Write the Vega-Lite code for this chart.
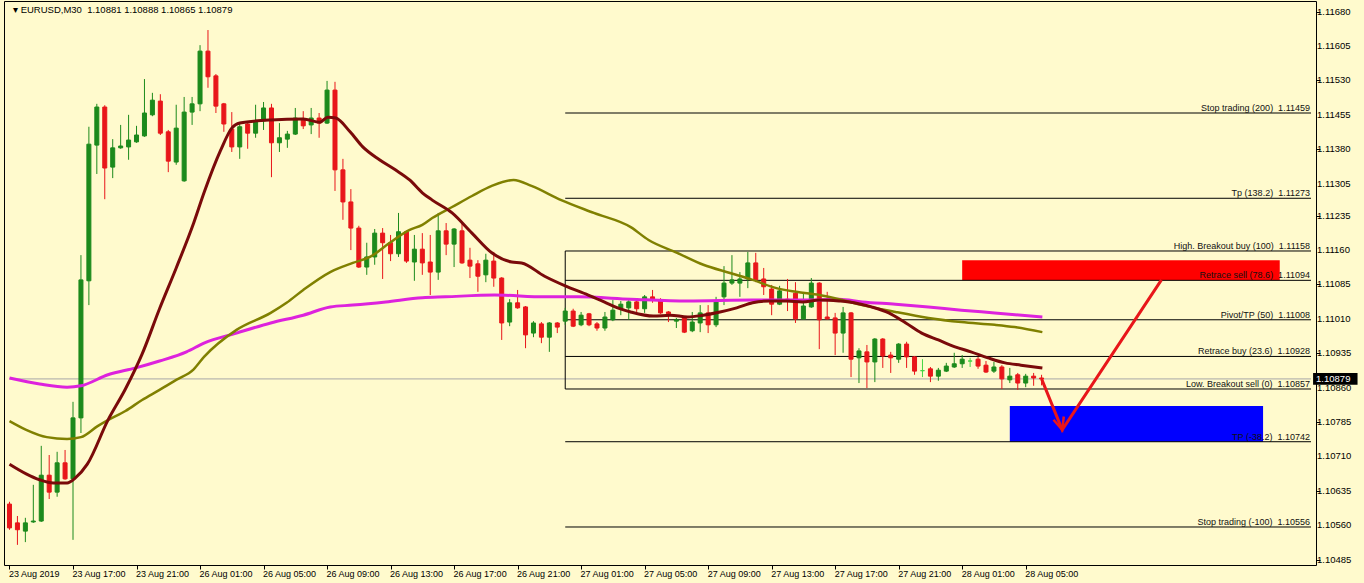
{
  "$schema": "https://vega.github.io/schema/vega-lite/v6.json",
  "width": 1312,
  "height": 564,
  "autosize": {"type": "none"},
  "padding": {"left": 4, "top": 1, "right": 48, "bottom": 18},
  "background": "#FFFACD",
  "config": {
    "view": {"stroke": "#000000", "strokeWidth": 1, "fill": "#FFFACD"},
    "axis": {"grid": false, "domain": false, "ticks": true, "tickColor": "#000000", "tickSize": 4, "labelColor": "#000000", "labelFont": "Liberation Sans", "labelFontSize": 9, "labelOverlap": false, "labelFlush": false, "labelBound": false}
  },
  "datasets": {
    "candles": [
      {"i":0,"o":1.10606,"h":1.10611,"l":1.10550,"c":1.10554,"t":"down"},
      {"i":1,"o":1.10565,"h":1.10580,"l":1.10517,"c":1.10550,"t":"down"},
      {"i":2,"o":1.10547,"h":1.10576,"l":1.10523,"c":1.10565,"t":"up"},
      {"i":3,"o":1.10567,"h":1.10648,"l":1.10565,"c":1.10569,"t":"up"},
      {"i":4,"o":1.10569,"h":1.10733,"l":1.10567,"c":1.10669,"t":"up"},
      {"i":5,"o":1.10669,"h":1.10713,"l":1.10617,"c":1.10632,"t":"down"},
      {"i":6,"o":1.10632,"h":1.10720,"l":1.10622,"c":1.10696,"t":"up"},
      {"i":7,"o":1.10696,"h":1.10724,"l":1.10659,"c":1.10661,"t":"down"},
      {"i":8,"o":1.10661,"h":1.10829,"l":1.10528,"c":1.10794,"t":"up"},
      {"i":9,"o":1.10794,"h":1.11149,"l":1.10761,"c":1.11095,"t":"up"},
      {"i":10,"o":1.11093,"h":1.11429,"l":1.11040,"c":1.11391,"t":"up"},
      {"i":11,"o":1.11389,"h":1.11479,"l":1.11326,"c":1.11472,"t":"up"},
      {"i":12,"o":1.11472,"h":1.11476,"l":1.11271,"c":1.11339,"t":"down"},
      {"i":13,"o":1.11341,"h":1.11402,"l":1.11317,"c":1.11383,"t":"up"},
      {"i":14,"o":1.11383,"h":1.11433,"l":1.11381,"c":1.11387,"t":"up"},
      {"i":15,"o":1.11385,"h":1.11455,"l":1.11357,"c":1.11400,"t":"up"},
      {"i":16,"o":1.11396,"h":1.11431,"l":1.11394,"c":1.11411,"t":"up"},
      {"i":17,"o":1.11409,"h":1.11533,"l":1.11407,"c":1.11459,"t":"up"},
      {"i":18,"o":1.11455,"h":1.11503,"l":1.11452,"c":1.11487,"t":"up"},
      {"i":19,"o":1.11485,"h":1.11500,"l":1.11411,"c":1.11415,"t":"down"},
      {"i":20,"o":1.11418,"h":1.11422,"l":1.11330,"c":1.11354,"t":"down"},
      {"i":21,"o":1.11352,"h":1.11477,"l":1.11346,"c":1.11426,"t":"up"},
      {"i":22,"o":1.11311,"h":1.11494,"l":1.11309,"c":1.11461,"t":"up"},
      {"i":23,"o":1.11461,"h":1.11494,"l":1.11433,"c":1.11479,"t":"up"},
      {"i":24,"o":1.11479,"h":1.11607,"l":1.11463,"c":1.11594,"t":"up"},
      {"i":25,"o":1.11594,"h":1.11640,"l":1.11514,"c":1.11538,"t":"down"},
      {"i":26,"o":1.11540,"h":1.11544,"l":1.11459,"c":1.11474,"t":"down"},
      {"i":27,"o":1.11479,"h":1.11481,"l":1.11418,"c":1.11435,"t":"down"},
      {"i":28,"o":1.11424,"h":1.11461,"l":1.11374,"c":1.11385,"t":"down"},
      {"i":29,"o":1.11385,"h":1.11439,"l":1.11359,"c":1.11429,"t":"up"},
      {"i":30,"o":1.11435,"h":1.11439,"l":1.11381,"c":1.11415,"t":"down"},
      {"i":31,"o":1.11415,"h":1.11477,"l":1.11405,"c":1.11442,"t":"up"},
      {"i":32,"o":1.11442,"h":1.11483,"l":1.11422,"c":1.11470,"t":"up"},
      {"i":33,"o":1.11470,"h":1.11479,"l":1.11319,"c":1.11394,"t":"down"},
      {"i":34,"o":1.11394,"h":1.11437,"l":1.11374,"c":1.11405,"t":"up"},
      {"i":35,"o":1.11402,"h":1.11420,"l":1.11383,"c":1.11413,"t":"up"},
      {"i":36,"o":1.11413,"h":1.11470,"l":1.11411,"c":1.11448,"t":"up"},
      {"i":37,"o":1.11444,"h":1.11463,"l":1.11424,"c":1.11431,"t":"down"},
      {"i":38,"o":1.11433,"h":1.11470,"l":1.11413,"c":1.11448,"t":"up"},
      {"i":39,"o":1.11448,"h":1.11459,"l":1.11405,"c":1.11437,"t":"down"},
      {"i":40,"o":1.11437,"h":1.11529,"l":1.11435,"c":1.11509,"t":"up"},
      {"i":41,"o":1.11509,"h":1.11527,"l":1.11289,"c":1.11335,"t":"down"},
      {"i":42,"o":1.11335,"h":1.11359,"l":1.11226,"c":1.11265,"t":"down"},
      {"i":43,"o":1.11265,"h":1.11293,"l":1.11160,"c":1.11208,"t":"down"},
      {"i":44,"o":1.11208,"h":1.11213,"l":1.11121,"c":1.11123,"t":"down"},
      {"i":45,"o":1.11123,"h":1.11176,"l":1.11106,"c":1.11145,"t":"up"},
      {"i":46,"o":1.11145,"h":1.11206,"l":1.11128,"c":1.11197,"t":"up"},
      {"i":47,"o":1.11197,"h":1.11208,"l":1.11097,"c":1.11176,"t":"down"},
      {"i":48,"o":1.11176,"h":1.11193,"l":1.11136,"c":1.11152,"t":"down"},
      {"i":49,"o":1.11152,"h":1.11241,"l":1.11145,"c":1.11200,"t":"up"},
      {"i":50,"o":1.11200,"h":1.11202,"l":1.11132,"c":1.11136,"t":"down"},
      {"i":51,"o":1.11134,"h":1.11193,"l":1.11093,"c":1.11162,"t":"up"},
      {"i":52,"o":1.11162,"h":1.11197,"l":1.11106,"c":1.11132,"t":"down"},
      {"i":53,"o":1.11134,"h":1.11193,"l":1.11062,"c":1.11112,"t":"down"},
      {"i":54,"o":1.11112,"h":1.11241,"l":1.11095,"c":1.11202,"t":"up"},
      {"i":55,"o":1.11202,"h":1.11219,"l":1.11149,"c":1.11173,"t":"down"},
      {"i":56,"o":1.11173,"h":1.11208,"l":1.11123,"c":1.11206,"t":"up"},
      {"i":57,"o":1.11202,"h":1.11219,"l":1.11130,"c":1.11132,"t":"down"},
      {"i":58,"o":1.11138,"h":1.11165,"l":1.11099,"c":1.11125,"t":"down"},
      {"i":59,"o":1.11130,"h":1.11138,"l":1.11069,"c":1.11103,"t":"down"},
      {"i":60,"o":1.11106,"h":1.11152,"l":1.11090,"c":1.11138,"t":"up"},
      {"i":61,"o":1.11136,"h":1.11156,"l":1.11080,"c":1.11099,"t":"down"},
      {"i":62,"o":1.11099,"h":1.11101,"l":1.10964,"c":1.11001,"t":"down"},
      {"i":63,"o":1.11003,"h":1.11053,"l":1.10994,"c":1.11045,"t":"up"},
      {"i":64,"o":1.11045,"h":1.11073,"l":1.11032,"c":1.11034,"t":"down"},
      {"i":65,"o":1.11036,"h":1.11038,"l":1.10946,"c":1.10975,"t":"down"},
      {"i":66,"o":1.10979,"h":1.11005,"l":1.10970,"c":1.11001,"t":"up"},
      {"i":67,"o":1.10999,"h":1.11003,"l":1.10957,"c":1.10970,"t":"down"},
      {"i":68,"o":1.10970,"h":1.11003,"l":1.10938,"c":1.11001,"t":"up"},
      {"i":69,"o":1.11001,"h":1.11003,"l":1.10979,"c":1.10992,"t":"down"},
      {"i":70,"o":1.11005,"h":1.11034,"l":1.10997,"c":1.11027,"t":"up"},
      {"i":71,"o":1.11027,"h":1.11032,"l":1.10992,"c":1.10994,"t":"down"},
      {"i":72,"o":1.10997,"h":1.11025,"l":1.10994,"c":1.11018,"t":"up"},
      {"i":73,"o":1.11021,"h":1.11023,"l":1.10994,"c":1.10997,"t":"down"},
      {"i":74,"o":1.10999,"h":1.11003,"l":1.10984,"c":1.10990,"t":"down"},
      {"i":75,"o":1.10990,"h":1.11025,"l":1.10984,"c":1.11014,"t":"up"},
      {"i":76,"o":1.11008,"h":1.11051,"l":1.11005,"c":1.11029,"t":"up"},
      {"i":77,"o":1.11032,"h":1.11049,"l":1.11018,"c":1.11042,"t":"up"},
      {"i":78,"o":1.11034,"h":1.11051,"l":1.11008,"c":1.11047,"t":"up"},
      {"i":79,"o":1.11047,"h":1.11051,"l":1.11025,"c":1.11032,"t":"down"},
      {"i":80,"o":1.11032,"h":1.11062,"l":1.11023,"c":1.11058,"t":"up"},
      {"i":81,"o":1.11058,"h":1.11073,"l":1.11045,"c":1.11053,"t":"down"},
      {"i":82,"o":1.11051,"h":1.11055,"l":1.11021,"c":1.11023,"t":"down"},
      {"i":83,"o":1.11025,"h":1.11027,"l":1.11003,"c":1.11021,"t":"down"},
      {"i":84,"o":1.11005,"h":1.11012,"l":1.10990,"c":1.11008,"t":"up"},
      {"i":85,"o":1.11012,"h":1.11014,"l":1.10979,"c":1.10981,"t":"down"},
      {"i":86,"o":1.10984,"h":1.11025,"l":1.10981,"c":1.11003,"t":"up"},
      {"i":87,"o":1.11001,"h":1.11040,"l":1.10981,"c":1.11023,"t":"up"},
      {"i":88,"o":1.11023,"h":1.11040,"l":1.10979,"c":1.10997,"t":"down"},
      {"i":89,"o":1.10997,"h":1.11058,"l":1.10992,"c":1.11047,"t":"up"},
      {"i":90,"o":1.11058,"h":1.11125,"l":1.11040,"c":1.11088,"t":"up"},
      {"i":91,"o":1.11088,"h":1.11149,"l":1.11084,"c":1.11095,"t":"up"},
      {"i":92,"o":1.11088,"h":1.11112,"l":1.11058,"c":1.11097,"t":"up"},
      {"i":93,"o":1.11097,"h":1.11156,"l":1.11077,"c":1.11132,"t":"up"},
      {"i":94,"o":1.11132,"h":1.11154,"l":1.11090,"c":1.11095,"t":"down"},
      {"i":95,"o":1.11097,"h":1.11121,"l":1.11062,"c":1.11080,"t":"down"},
      {"i":96,"o":1.11075,"h":1.11084,"l":1.11018,"c":1.11042,"t":"down"},
      {"i":97,"o":1.11042,"h":1.11082,"l":1.11040,"c":1.11071,"t":"up"},
      {"i":98,"o":1.11053,"h":1.11097,"l":1.11027,"c":1.11049,"t":"down"},
      {"i":99,"o":1.11066,"h":1.11090,"l":1.11001,"c":1.11010,"t":"down"},
      {"i":100,"o":1.11010,"h":1.11066,"l":1.11008,"c":1.11038,"t":"up"},
      {"i":101,"o":1.11036,"h":1.11099,"l":1.11034,"c":1.11088,"t":"up"},
      {"i":102,"o":1.11088,"h":1.11090,"l":1.10944,"c":1.11008,"t":"down"},
      {"i":103,"o":1.11014,"h":1.11069,"l":1.11008,"c":1.11010,"t":"down"},
      {"i":104,"o":1.11012,"h":1.11023,"l":1.10931,"c":1.10979,"t":"down"},
      {"i":105,"o":1.10979,"h":1.11036,"l":1.10936,"c":1.11023,"t":"up"},
      {"i":106,"o":1.11023,"h":1.11025,"l":1.10883,"c":1.10922,"t":"down"},
      {"i":107,"o":1.10925,"h":1.10946,"l":1.10870,"c":1.10940,"t":"up"},
      {"i":108,"o":1.10938,"h":1.10953,"l":1.10859,"c":1.10916,"t":"down"},
      {"i":109,"o":1.10916,"h":1.10968,"l":1.10872,"c":1.10966,"t":"up"},
      {"i":110,"o":1.10966,"h":1.10968,"l":1.10903,"c":1.10929,"t":"down"},
      {"i":111,"o":1.10931,"h":1.10938,"l":1.10892,"c":1.10925,"t":"down"},
      {"i":112,"o":1.10922,"h":1.10957,"l":1.10914,"c":1.10955,"t":"up"},
      {"i":113,"o":1.10955,"h":1.10960,"l":1.10903,"c":1.10927,"t":"down"},
      {"i":114,"o":1.10927,"h":1.10929,"l":1.10888,"c":1.10896,"t":"down"},
      {"i":115,"o":1.10897,"h":1.10922,"l":1.10883,"c":1.10897,"t":"doji"},
      {"i":116,"o":1.10901,"h":1.10905,"l":1.10872,"c":1.10885,"t":"down"},
      {"i":117,"o":1.10885,"h":1.10903,"l":1.10875,"c":1.10898,"t":"up"},
      {"i":118,"o":1.10896,"h":1.10914,"l":1.10894,"c":1.10907,"t":"up"},
      {"i":119,"o":1.10905,"h":1.10936,"l":1.10903,"c":1.10912,"t":"up"},
      {"i":120,"o":1.10912,"h":1.10931,"l":1.10903,"c":1.10922,"t":"up"},
      {"i":121,"o":1.10918,"h":1.10925,"l":1.10905,"c":1.10918,"t":"doji"},
      {"i":122,"o":1.10922,"h":1.10927,"l":1.10901,"c":1.10907,"t":"down"},
      {"i":123,"o":1.10909,"h":1.10918,"l":1.10892,"c":1.10894,"t":"down"},
      {"i":124,"o":1.10896,"h":1.10916,"l":1.10892,"c":1.10905,"t":"up"},
      {"i":125,"o":1.10905,"h":1.10909,"l":1.10857,"c":1.10879,"t":"down"},
      {"i":126,"o":1.10877,"h":1.10903,"l":1.10870,"c":1.10885,"t":"up"},
      {"i":127,"o":1.10888,"h":1.10892,"l":1.10855,"c":1.10870,"t":"down"},
      {"i":128,"o":1.10870,"h":1.10890,"l":1.10861,"c":1.10885,"t":"up"},
      {"i":129,"o":1.10885,"h":1.10892,"l":1.10864,"c":1.10881,"t":"down"},
      {"i":130,"o":1.10881,"h":1.10888,"l":1.10865,"c":1.10879,"t":"down"}
    ],
    "fast": [
      {"i":0,"p":1.10693},{"i":2.1,"p":1.10672},{"i":3.8,"p":1.10659},{"i":5.5,"p":1.10652},{"i":7.25,"p":1.10652},
      {"i":8.3,"p":1.10663},{"i":9.8,"p":1.10693},{"i":12.4,"p":1.10789},{"i":14.6,"p":1.10857},{"i":16.7,"p":1.10933},
      {"i":18.9,"p":1.11032},{"i":21,"p":1.11121},{"i":23.2,"p":1.11219},{"i":24.5,"p":1.11285},{"i":26.6,"p":1.11378},
      {"i":28,"p":1.11426},{"i":29,"p":1.11437},{"i":32.9,"p":1.11444},{"i":37,"p":1.11446},{"i":39.1,"p":1.11439},
      {"i":40.1,"p":1.11450},{"i":41.1,"p":1.11448},{"i":42.9,"p":1.11418},{"i":44.5,"p":1.11385},{"i":46.6,"p":1.11357},
      {"i":48.6,"p":1.11335},{"i":50.4,"p":1.11313},{"i":52,"p":1.11285},{"i":53.25,"p":1.11269},{"i":55.75,"p":1.11241},
      {"i":58.25,"p":1.11197},{"i":60.75,"p":1.11154},{"i":63.25,"p":1.11134},{"i":64.5,"p":1.11132},{"i":67.4,"p":1.11103},
      {"i":70,"p":1.11082},{"i":72.9,"p":1.11062},{"i":74.9,"p":1.11047},{"i":76.6,"p":1.11034},{"i":78.25,"p":1.11025},
      {"i":81.1,"p":1.11016},{"i":83.25,"p":1.11018},{"i":85.4,"p":1.11014},{"i":87.4,"p":1.11018},{"i":89.5,"p":1.11025},
      {"i":91.6,"p":1.11034},{"i":93.6,"p":1.11045},{"i":95.75,"p":1.11049},{"i":97.9,"p":1.11049},{"i":99.9,"p":1.11047},
      {"i":102,"p":1.11051},{"i":104.5,"p":1.11049},{"i":105.75,"p":1.11047},{"i":108.6,"p":1.11036},{"i":110.75,"p":1.11023},
      {"i":112.9,"p":1.11001},{"i":114.9,"p":1.10979},{"i":117,"p":1.10964},{"i":119.1,"p":1.10949},{"i":121.1,"p":1.10938},
      {"i":123.25,"p":1.10925},{"i":125.4,"p":1.10914},{"i":127.4,"p":1.10909},{"i":130.1,"p":1.10903}
    ],
    "mid": [
      {"i":0,"p":1.10787},{"i":2.1,"p":1.10768},{"i":4.7,"p":1.10752},{"i":7.25,"p":1.10748},{"i":9,"p":1.10752},
      {"i":11.1,"p":1.10776},{"i":12.4,"p":1.10789},{"i":14.6,"p":1.10809},{"i":16.7,"p":1.10833},{"i":18.9,"p":1.10855},
      {"i":21,"p":1.10877},{"i":23.2,"p":1.10900},{"i":24.5,"p":1.10927},{"i":28.6,"p":1.10986},{"i":32.9,"p":1.11023},
      {"i":34.9,"p":1.11045},{"i":37,"p":1.11073},{"i":40.4,"p":1.11112},{"i":43.25,"p":1.11132},{"i":45.4,"p":1.11145},
      {"i":47.9,"p":1.11176},{"i":50.4,"p":1.11204},{"i":52,"p":1.11215},{"i":53.25,"p":1.11230},{"i":55.75,"p":1.11254},
      {"i":58.25,"p":1.11278},{"i":60.75,"p":1.11300},{"i":63.5,"p":1.11313},{"i":65.75,"p":1.11300},{"i":69.5,"p":1.11269},
      {"i":73.6,"p":1.11241},{"i":78.25,"p":1.11210},{"i":80.5,"p":1.11182},{"i":84.1,"p":1.11154},{"i":87.4,"p":1.11128},
      {"i":90.75,"p":1.11110},{"i":93.6,"p":1.11095},{"i":96.6,"p":1.11077},{"i":99.1,"p":1.11069},{"i":102,"p":1.11062},
      {"i":104.5,"p":1.11053},{"i":107.4,"p":1.11040},{"i":111.6,"p":1.11025},{"i":115.75,"p":1.11012},{"i":119.9,"p":1.11003},
      {"i":124.1,"p":1.10997},{"i":126.6,"p":1.10992},{"i":130.1,"p":1.10981}
    ],
    "slow": [
      {"i":0,"p":1.10881},{"i":3.8,"p":1.10868},{"i":7.25,"p":1.10861},{"i":9,"p":1.10864},{"i":12.4,"p":1.10888},
      {"i":15.9,"p":1.10903},{"i":18.9,"p":1.10918},{"i":22.3,"p":1.10938},{"i":24.5,"p":1.10957},{"i":28.6,"p":1.10979},
      {"i":32.9,"p":1.11001},{"i":37,"p":1.11018},{"i":40.4,"p":1.11036},{"i":43.25,"p":1.11040},{"i":47.4,"p":1.11047},
      {"i":52,"p":1.11056},{"i":54.9,"p":1.11058},{"i":61.1,"p":1.11062},{"i":67.4,"p":1.11058},{"i":71.6,"p":1.11058},
      {"i":78.25,"p":1.11053},{"i":85.4,"p":1.11049},{"i":93.6,"p":1.11051},{"i":102,"p":1.11051},{"i":104.5,"p":1.11053},
      {"i":107.4,"p":1.11047},{"i":111.6,"p":1.11042},{"i":115.75,"p":1.11036},{"i":119.9,"p":1.11029},{"i":124.1,"p":1.11023},
      {"i":130.1,"p":1.11014}
    ],
    "levels": [
      {"p":1.11459,"label":"Stop trading (200)\u00a0 1.11459"},
      {"p":1.11273,"label":"Tp (138.2)\u00a0 1.11273"},
      {"p":1.11158,"label":"High. Breakout buy (100)\u00a0 1.11158"},
      {"p":1.11094,"label":"Retrace sell (78.6)\u00a0 1.11094"},
      {"p":1.11008,"label":"Pivot/TP (50)\u00a0 1.11008"},
      {"p":1.10928,"label":"Retrace buy (23.6)\u00a0 1.10928"},
      {"p":1.10857,"label":"Low. Breakout sell (0)\u00a0 1.10857"},
      {"p":1.10742,"label":"TP (-38.2)\u00a0 1.10742"},
      {"p":1.10556,"label":"Stop trading (-100)\u00a0 1.10556"}
    ],
    "ticks": [
      {"p":1.10485,"label":"1.10485"},{"p":1.10560,"label":"1.10560"},{"p":1.10635,"label":"1.10635"},{"p":1.10710,"label":"1.10710"},
      {"p":1.10785,"label":"1.10785"},{"p":1.10860,"label":"1.10860"},{"p":1.10935,"label":"1.10935"},{"p":1.11010,"label":"1.11010"},
      {"p":1.11085,"label":"1.11085"},{"p":1.11160,"label":"1.11160"},{"p":1.11235,"label":"1.11235"},{"p":1.11305,"label":"1.11305"},
      {"p":1.11380,"label":"1.11380"},{"p":1.11455,"label":"1.11455"},{"p":1.11530,"label":"1.11530"},{"p":1.11605,"label":"1.11605"},
      {"p":1.11680,"label":"1.11680"}
    ],
    "arrow": [
      {"i":130,"p":1.10879},{"i":132.6,"p":1.10768},{"i":145.1,"p":1.11095}
    ],
    "arrowhead": [
      {"k":0,"i":131.5,"p":1.10790},{"k":1,"i":132.6,"p":1.10768},{"k":2,"i":132.8,"p":1.10797}
    ],
    "last": [{"p":1.10879,"label":"1.10879"}],
    "header": [{"label":"▾ EURUSD,M30\u00a0 1.10881 1.10888 1.10865 1.10879"}]
  },
  "layer": [
    {
      "data": {"name": "last"},
      "mark": {"type": "rule", "color": "#a8a8a8", "strokeWidth": 1},
      "encoding": {
        "x": {"datum": -0.0625, "type": "quantitative", "scale": {"domain": [-0.0625, 163.9375], "nice": false, "zero": false},
          "axis": {"orient": "bottom", "title": null, "values": [0,8,16,24,32,40,48,56,64,72,80,88,96,104,112,120,128], "labelAlign": "left", "labelBaseline": "top", "labelPadding": 0, "labelOffset": -1, "labelFontSize": 9, "labelOverlap": false,
            "labelExpr": "['23 Aug 2019','23 Aug 17:00','23 Aug 21:00','26 Aug 01:00','26 Aug 05:00','26 Aug 09:00','26 Aug 13:00','26 Aug 17:00','26 Aug 21:00','27 Aug 01:00','27 Aug 05:00','27 Aug 09:00','27 Aug 13:00','27 Aug 17:00','27 Aug 21:00','28 Aug 01:00','28 Aug 05:00'][round(datum.value/8)]"}},
        "x2": {"datum": 163.9375},
        "y": {"field": "p", "type": "quantitative", "scale": {"domain": [1.104731, 1.117033], "nice": false, "zero": false},
          "axis": {"orient": "right", "title": null, "values": [1.10485,1.10560,1.10635,1.10710,1.10785,1.10860,1.10935,1.11010,1.11085,1.11160,1.11235,1.11305,1.11380,1.11455,1.11530,1.11605,1.11680], "labels": false}}
      }
    },
    {
      "data": {"name": "ticks"},
      "mark": {"type": "text", "align": "left", "baseline": "middle", "dx": 6, "font": "Liberation Sans", "fontSize": 9.5, "color": "#000000"},
      "encoding": {
        "x": {"datum": 163.9375, "type": "quantitative"},
        "y": {"field": "p", "type": "quantitative", "title": null},
        "text": {"field": "label"}
      }
    },
    {
      "data": {"values": [{"a": 120, "b": 160, "top": 1.11138, "bot": 1.11094}]},
      "mark": {"type": "rect", "color": "#FF0000"},
      "encoding": {
        "x": {"field": "a", "type": "quantitative", "title": null},
        "x2": {"field": "b"},
        "y": {"field": "top", "type": "quantitative", "title": null},
        "y2": {"field": "bot"}
      }
    },
    {
      "data": {"values": [{"a": 126, "b": 157.9, "top": 1.10820, "bot": 1.10742}]},
      "mark": {"type": "rect", "color": "#0000FF"},
      "encoding": {
        "x": {"field": "a", "type": "quantitative", "title": null},
        "x2": {"field": "b"},
        "y": {"field": "top", "type": "quantitative", "title": null},
        "y2": {"field": "bot"}
      }
    },
    {
      "data": {"name": "levels"},
      "mark": {"type": "rule", "color": "#000000", "strokeWidth": 1},
      "encoding": {
        "x": {"datum": 70, "type": "quantitative"},
        "x2": {"datum": 163.9375},
        "y": {"field": "p", "type": "quantitative", "title": null}
      }
    },
    {
      "data": {"values": [{"lo": 1.10857, "hi": 1.11158}]},
      "mark": {"type": "rule", "color": "#000000", "strokeWidth": 1},
      "encoding": {
        "x": {"datum": 70, "type": "quantitative"},
        "y": {"field": "lo", "type": "quantitative", "title": null},
        "y2": {"field": "hi"}
      }
    },
    {
      "data": {"name": "levels"},
      "mark": {"type": "text", "align": "right", "baseline": "alphabetic", "dx": -1, "dy": -2, "font": "Liberation Sans", "fontSize": 9, "color": "#111111"},
      "encoding": {
        "x": {"datum": 163.9375, "type": "quantitative"},
        "y": {"field": "p", "type": "quantitative", "title": null},
        "text": {"field": "label"}
      }
    },
    {
      "data": {"name": "candles"},
      "mark": {"type": "rule", "strokeWidth": 1, "clip": true},
      "encoding": {
        "x": {"field": "i", "type": "quantitative", "title": null},
        "y": {"field": "l", "type": "quantitative", "title": null},
        "y2": {"field": "h"},
        "color": {"field": "t", "type": "nominal", "scale": {"domain": ["up", "down", "doji"], "range": ["#1C8A1C", "#E8161A", "#44D444"]}, "legend": null}
      }
    },
    {
      "data": {"name": "candles"},
      "mark": {"type": "bar", "size": 4, "strokeWidth": 1, "clip": true},
      "encoding": {
        "x": {"field": "i", "type": "quantitative", "title": null},
        "y": {"field": "o", "type": "quantitative", "title": null},
        "y2": {"field": "c"},
        "fill": {"field": "t", "type": "nominal", "scale": {"domain": ["up", "down", "doji"], "range": ["#1C8A1C", "#E8161A", "#44D444"]}, "legend": null},
        "stroke": {"field": "t", "type": "nominal", "scale": {"domain": ["up", "down", "doji"], "range": ["#1C8A1C", "#E8161A", "#44D444"]}, "legend": null}
      }
    },
    {
      "data": {"name": "slow"},
      "mark": {"type": "line", "color": "#DD22DD", "strokeWidth": 3, "interpolate": "monotone", "clip": true},
      "encoding": {
        "x": {"field": "i", "type": "quantitative", "title": null},
        "y": {"field": "p", "type": "quantitative", "title": null}
      }
    },
    {
      "data": {"name": "mid"},
      "mark": {"type": "line", "color": "#808000", "strokeWidth": 2.5, "interpolate": "monotone", "clip": true},
      "encoding": {
        "x": {"field": "i", "type": "quantitative", "title": null},
        "y": {"field": "p", "type": "quantitative", "title": null}
      }
    },
    {
      "data": {"name": "fast"},
      "mark": {"type": "line", "color": "#7A0A0A", "strokeWidth": 3, "interpolate": "monotone", "clip": true},
      "encoding": {
        "x": {"field": "i", "type": "quantitative", "title": null},
        "y": {"field": "p", "type": "quantitative", "title": null}
      }
    },
    {
      "data": {"name": "arrow"},
      "mark": {"type": "line", "color": "#E8161A", "strokeWidth": 3},
      "encoding": {
        "x": {"field": "i", "type": "quantitative", "title": null},
        "y": {"field": "p", "type": "quantitative", "title": null}
      }
    },
    {
      "data": {"name": "arrowhead"},
      "mark": {"type": "line", "color": "#E8161A", "strokeWidth": 2.5},
      "encoding": {
        "x": {"field": "i", "type": "quantitative", "title": null},
        "y": {"field": "p", "type": "quantitative", "title": null},
        "order": {"field": "k"}
      }
    },
    {
      "data": {"name": "last"},
      "mark": {"type": "rect", "color": "#000000"},
      "encoding": {
        "x": {"datum": 164.2, "type": "quantitative"},
        "x2": {"datum": 169.8},
        "y": {"datum": 1.10892, "type": "quantitative"},
        "y2": {"datum": 1.10866}
      }
    },
    {
      "data": {"name": "last"},
      "mark": {"type": "text", "align": "left", "baseline": "middle", "dx": 3, "font": "Liberation Sans", "fontSize": 9.5, "color": "#FFFFFF"},
      "encoding": {
        "x": {"datum": 164.2, "type": "quantitative"},
        "y": {"field": "p", "type": "quantitative", "title": null},
        "text": {"field": "label"}
      }
    },
    {
      "data": {"name": "header"},
      "mark": {"type": "text", "align": "left", "baseline": "top", "dx": 4, "dy": 4, "font": "Liberation Sans", "fontSize": 9.5, "color": "#000000"},
      "encoding": {
        "x": {"datum": -0.0625, "type": "quantitative"},
        "y": {"datum": 1.117033, "type": "quantitative"},
        "text": {"field": "label"}
      }
    }
  ]
}
